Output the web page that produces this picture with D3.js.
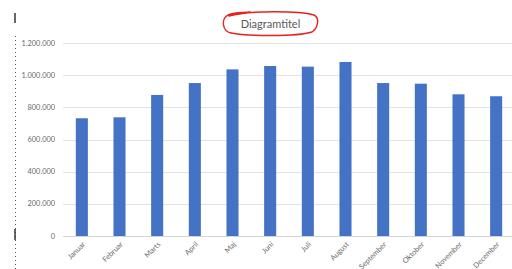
<!DOCTYPE html>
<html lang='da'>
	<head>
		<meta charset='utf-8'>
		<title>Diagramtitel</title>
		<script type='text/javascript' src='https://cdn.jsdelivr.net/npm/d3@7'></script>
		<style>
			body { margin: 0; background: white; }
			svg { display: block; font-family: Lato, 'Open Sans', sans-serif; }
			g.grid line { stroke: #e3e3e3; stroke-width: 1px; }
			g.bars rect { fill: #4472c4; }
			text { fill: #6b6b6b; }
		</style>
	</head>
	<body>
		<script type='text/javascript'>
			var width = 512;
			var height = 269;

			var months = ['Januar', 'Februar', 'Marts', 'April', 'Maj', 'Juni', 'Juli',
				'August', 'September', 'Oktober', 'November', 'December'];
			var values = [732000, 738000, 877000, 951000, 1036000, 1057000, 1053000,
				1082000, 951000, 947000, 881000, 869000];
			var yTicks = [0, 200000, 400000, 600000, 800000, 1000000, 1200000];

			var locale = d3.formatLocale({ decimal: ',', thousands: '.', grouping: [3], currency: ['', ' kr.'] });
			var fmt = locale.format(',');

			var x = d3.scaleBand().domain(months).range([63, 515]).paddingInner(0.68).paddingOuter(0.34);
			var y = d3.scaleLinear().domain([0, 1200000]).range([236, 43]);

			var svg = d3.select('body').append('svg')
				.attr('width', width)
				.attr('height', height);

			// left edge of the selection frame in the screenshot
			svg.append('line')
				.attr('x1', 15.5).attr('x2', 15.5).attr('y1', 36).attr('y2', height)
				.attr('stroke', '#555').attr('stroke-width', 1).attr('stroke-dasharray', '1,3');
			svg.append('line')
				.attr('x1', 15).attr('x2', 15).attr('y1', 13).attr('y2', 23)
				.attr('stroke', '#333').attr('stroke-width', 1.5);
			svg.append('line')
				.attr('x1', 15).attr('x2', 15).attr('y1', 229).attr('y2', 240)
				.attr('stroke', '#333').attr('stroke-width', 1.5);

			svg.append('g').attr('class', 'grid')
				.selectAll('line')
				.data(yTicks)
				.enter().append('line')
					.attr('x1', 63)
					.attr('x2', width)
					.attr('y1', function(d) { return Math.round(y(d)) + 0.5; })
					.attr('y2', function(d) { return Math.round(y(d)) + 0.5; })
					.style('stroke', function(d) { return d === 0 ? '#d4d4d4' : null; });

			svg.append('g')
				.selectAll('text')
				.data(yTicks)
				.enter().append('text')
					.attr('x', 55)
					.attr('y', function(d) { return y(d) + 2.6; })
					.attr('text-anchor', 'end')
					.style('font-size', '7.4px')
					.text(function(d) { return fmt(d); });

			svg.append('g').attr('class', 'bars')
				.selectAll('rect')
				.data(values)
				.enter().append('rect')
					.attr('x', function(d, i) { return x(months[i]); })
					.attr('width', x.bandwidth())
					.attr('y', function(d) { return y(d); })
					.attr('height', function(d) { return y(0) - y(d); });

			svg.append('g')
				.selectAll('text')
				.data(months)
				.enter().append('text')
					.attr('text-anchor', 'end')
					.attr('transform', function(d) {
						return 'translate(' + (x(d) + x.bandwidth() / 2 + 2) + ',243) rotate(-45)';
					})
					.attr('dy', '0.35em')
					.style('font-size', '7.4px')
					.text(function(d) { return d; });

			svg.append('text')
				.attr('x', 270.5)
				.attr('y', 27.5)
				.attr('text-anchor', 'middle')
				.style('font-size', '11px')
				.style('fill', '#595959')
				.text('Diagramtitel');

			// hand drawn red ring round the title
			svg.append('path')
				.attr('d', 'M229,16 C250,10 300,11 314,15 C320,18 318,28 312,32 C296,37 246,36 231,33 C222,31 221,19 228,15 C236,12 244,13 250,12')
				.attr('fill', 'none')
				.attr('stroke', '#e8201e')
				.attr('stroke-width', 1.4)
				.attr('stroke-linecap', 'round');
		</script>
	</body>
</html>
